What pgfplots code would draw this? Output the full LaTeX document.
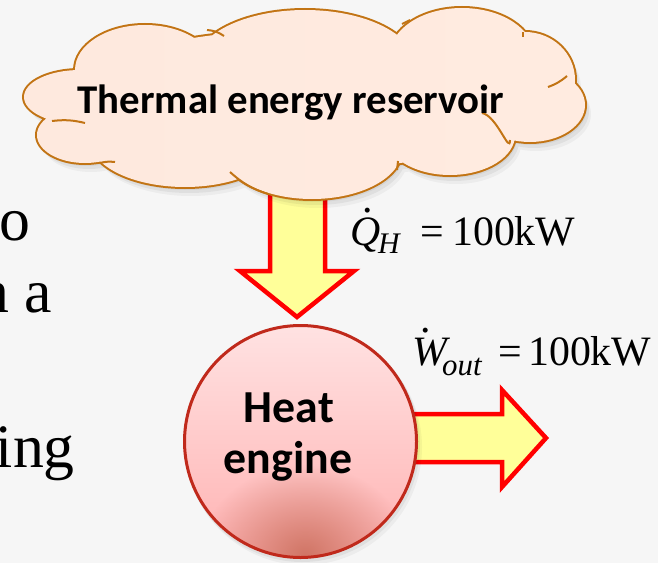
\documentclass[border=0pt]{standalone}
\usepackage{pgfplots}
\pgfplotsset{compat=1.18}
\usepackage{fontspec}
\setmainfont{Liberation Serif}
\newfontfamily\carlito{Carlito}
\usetikzlibrary{fadings}
\tikzfading[name=glowfade, inner color=transparent!0, outer color=transparent!100]
\definecolor{bg}{HTML}{F6F6F6}
\definecolor{cloudL}{HTML}{FEE9DE}
\definecolor{cloudM}{HTML}{FCC3A0}
\definecolor{cloudR}{HTML}{FFEBE0}
\definecolor{cloudline}{HTML}{C27414}
\definecolor{arrowfill}{HTML}{FFFF99}
\definecolor{arrowedge}{HTML}{FF0000}
\definecolor{circtop}{HTML}{FFE2E2}
\definecolor{circbot}{HTML}{FFB2B2}
\definecolor{circline}{HTML}{C0291B}
\definecolor{glow}{HTML}{D07565}
\newcommand\dotted[3]{\rlap{\hspace{#2}\raisebox{#3}{\upshape.}}\textit{#1}}
\tikzset{cloudpath/.style={insert path={
 (145,70) ellipse[x radius=70,y radius=45]
 (305,65) ellipse[x radius=110,y radius=55]
 (462,55) ellipse[x radius=72,y radius=47]
 (525,80) ellipse[x radius=50,y radius=48]
 (530,105) ellipse[x radius=55,y radius=37]
 (450,135) ellipse[x radius=65,y radius=40]
 (312,150) ellipse[x radius=90,y radius=49]
 (185,140) ellipse[x radius=95,y radius=47]
 (85,135) ellipse[x radius=48,y radius=28]
 (80,97) ellipse[x radius=56,y radius=27]
 (300,100) ellipse[x radius=230,y radius=70]
}}}
\begin{document}
\begin{tikzpicture}
\begin{axis}[width=658bp,height=563bp,scale only axis,
  xmin=0,xmax=658,ymin=0,ymax=563,y dir=reverse,hide axis,clip=true]
\fill[bg] (0,0) rectangle (658,563);
% cut-off slide text on the left
\node[anchor=base east,inner sep=0,font=\fontsize{62}{62}\selectfont] at (31,240) {o};
\node[anchor=base east,inner sep=0,font=\fontsize{62}{62}\selectfont] at (52,312) {n a};
\node[anchor=base east,inner sep=0,font=\fontsize{62}{62}\selectfont] at (75,467) {ing};
% arrows
\addplot[draw=arrowedge,fill=arrowfill,line width=4.5bp,line join=miter]
  coordinates {(270,150) (325,150) (325,271) (354,271) (297,317) (240,271) (270,271)} -- cycle;
\addplot[draw=arrowedge,fill=arrowfill,line width=4.5bp,line join=miter]
  coordinates {(380,414) (502,414) (502,390) (546,438) (502,487) (502,462) (380,462)} -- cycle;
% cloud shadow
\fill[black,opacity=0.05,xshift=2bp,yshift=-3bp,cloudpath];
\fill[black,opacity=0.05,xshift=4bp,yshift=-6bp,cloudpath];
\fill[black,opacity=0.04,xshift=6bp,yshift=-9bp,cloudpath];
% cloud
\draw[cloudline,line width=4bp,cloudpath];
\shade[left color=cloudL,middle color=cloudM,right color=cloudR,cloudpath];
\draw[cloudline,line width=2bp] (207,30) to[bend left=15] (224,36);
\draw[cloudline,line width=2bp] (402,24) to (410,20);
\draw[cloudline,line width=2bp] (523,32) to (523,37);
\draw[cloudline,line width=2bp] (567,76) to[bend left=10] (548,87);
\draw[cloudline,line width=2bp] (482,113) to[out=-10,in=-90] (510,140);
\draw[cloudline,line width=2bp] (230,172) to[bend right=12] (268,194);
\draw[cloudline,line width=2bp] (397,170) to (398,161);
\draw[cloudline,line width=2bp] (100,163) to[bend left=10] (115,162);
\draw[cloudline,line width=2bp] (52,121) to[bend left=10] (85,123);
% circle shadow
\fill[black,opacity=0.05] (302,444) circle[radius=118];
\fill[black,opacity=0.04] (304,447) circle[radius=118];
% circle
\shade[top color=circtop,bottom color=circbot] (300.5,441.5) circle[radius=116];
\begin{scope}
\clip (300.5,441.5) circle[radius=116];
\fill[glow,path fading=glowfade] (305,555) ellipse[x radius=105,y radius=90];
\end{scope}
\draw[circline,line width=3bp] (300.5,441.5) circle[radius=116];
% texts
\node[anchor=base,inner sep=0,font=\carlito\bfseries\fontsize{41}{41}\selectfont] at (291,113) {Thermal energy reservoir};
\node[anchor=base,inner sep=0,font=\carlito\bfseries\fontsize{46}{46}\selectfont] at (289,422) {Heat};
\node[anchor=base,inner sep=0,font=\carlito\bfseries\fontsize{46}{46}\selectfont] at (288,473) {engine};
% labels
\node[anchor=base west,inner sep=0,font=\fontsize{42}{42}\selectfont] at (350,245) {\dotted{Q}{0.3em}{0.78em}};
\node[anchor=base west,inner sep=0,font=\fontsize{30}{30}\selectfont\itshape] at (378,253) {H};
\node[anchor=base west,inner sep=0,font=\fontsize{42}{42}\selectfont] at (420,245) {=};
\node[anchor=base west,inner sep=0,font=\fontsize{42}{42}\selectfont] at (452,245) {100kW};
\node[anchor=base west,inner sep=0,font=\fontsize{42}{42}\selectfont] at (412,365) {\dotted{W}{0.19em}{0.78em}};
\node[anchor=base west,inner sep=0,font=\fontsize{31}{31}\selectfont\itshape] at (442,375) {out};
\node[anchor=base west,inner sep=0,font=\fontsize{42}{42}\selectfont] at (498,365) {=};
\node[anchor=base west,inner sep=0,font=\fontsize{42}{42}\selectfont] at (528,365) {100kW};
\end{axis}
\pgfresetboundingbox
\path[use as bounding box] (current axis.south west) rectangle (current axis.north east);
\end{tikzpicture}
\end{document}
